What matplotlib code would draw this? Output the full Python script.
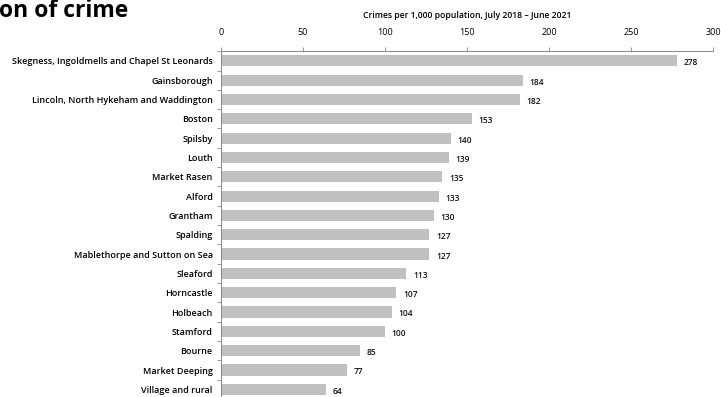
import matplotlib.pyplot as plt
from matplotlib.ticker import FixedLocator

plt.rcParams["font.family"] = ["Open Sans", "DejaVu Sans"]

areas = [
    "Skegness, Ingoldmells and Chapel St Leonards",
    "Gainsborough",
    "Lincoln, North Hykeham and Waddington",
    "Boston",
    "Spilsby",
    "Louth",
    "Market Rasen",
    "Alford",
    "Grantham",
    "Spalding",
    "Mablethorpe and Sutton on Sea",
    "Sleaford",
    "Horncastle",
    "Holbeach",
    "Stamford",
    "Bourne",
    "Market Deeping",
    "Village and rural",
]
crime_rate = [278, 184, 182, 153, 140, 139, 135, 133, 130, 127, 127, 113, 107, 104, 100, 85, 77, 64]
x_ticks = [0, 50, 100, 150, 200, 250, 300]

fig = plt.figure(figsize=(7.21, 3.97), dpi=100)
ax = fig.add_axes([0.3065, -0.005, 0.6825, 0.876])

pos = list(range(len(areas)))
ax.barh(pos, crime_rate, height=0.58, color="#c0c0c0", edgecolor="none")
for y, v in zip(pos, crime_rate):
    ax.text(v + 4, y + 0.1, f"{v}", va="center", ha="left", fontsize=6,
            fontweight="semibold", color="#111111")

ax.set_xlim(0, 300)
ax.set_ylim(len(areas) - 0.5, -0.5)
ax.set_xticks(x_ticks)
ax.set_yticks(pos)
ax.set_yticklabels(areas, fontsize=6.5, fontweight="semibold")
for lbl in ax.get_xticklabels():
    lbl.set_fontweight("semibold")
ax.yaxis.set_minor_locator(FixedLocator([p - 0.5 for p in pos]))
ax.xaxis.tick_top()
ax.tick_params(axis="x", labelsize=6.5, length=3, width=0.6, color="#888888", pad=7)
ax.tick_params(axis="y", which="major", length=0, pad=6)
ax.tick_params(axis="y", which="minor", length=3, width=0.6, color="#888888")
for s in ("right", "bottom"):
    ax.spines[s].set_visible(False)
for s in ("top", "left"):
    ax.spines[s].set_color("#888888")
    ax.spines[s].set_linewidth(0.7)

fig.text(0.648, 0.962, "Crimes per 1,000 population, July 2018 \u2013 June 2021",
         ha="center", va="center", fontsize=6.2, fontweight="semibold")
fig.text(-0.002, 0.972, "on of crime", ha="left", va="center", fontsize=16.5, fontweight="bold")

fig.savefig("out.png", dpi=100)
